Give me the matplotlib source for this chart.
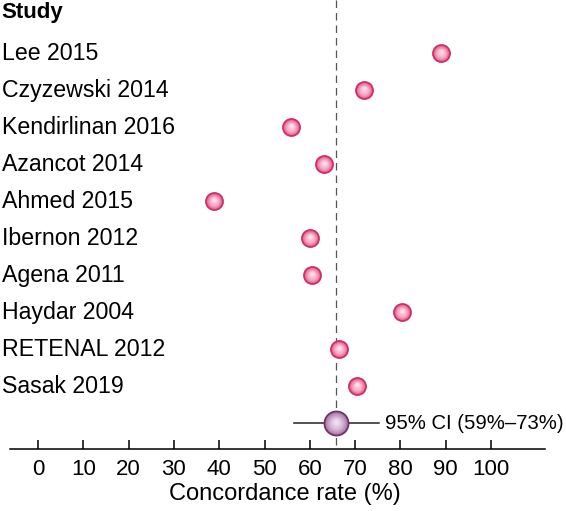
import matplotlib.pyplot as plt
import numpy as np
from matplotlib.colors import to_rgb

plt.rcParams['font.family'] = ['Liberation Sans', 'DejaVu Sans']

# データ
studies = ['Lee 2015', 'Czyzewski 2014', 'Kendirlinan 2016', 'Azancot 2014', 'Ahmed 2015',
           'Ibernon 2012', 'Agena 2011', 'Haydar 2004', 'RETENAL 2012', 'Sasak 2019']
rates = [89.0, 72.0, 55.9, 63.2, 38.8, 60.1, 60.5, 80.4, 66.5, 70.5]
pooled = 65.8
ci_low, ci_high = 56.5, 75.3
ci_text = '95% CI (59%\u201373%)'
xticks = [0, 10, 20, 30, 40, 50, 60, 70, 80, 90, 100]

fig = plt.figure(figsize=(5.66, 5.11), dpi=100)
ax = fig.add_axes([0, 0, 1, 1])
ax.set_xlim(-38 / 4.53, (566 - 38) / 4.53)
ax.set_ylim((511 - 53) / 37, -53 / 37)

rows = np.arange(len(studies))
pooled_row = len(studies)
axis_row = (449 - 53) / 37


def gradient_points(x, y, size, edge, base, light, z):
    # 擬似的なグラデーション
    ax.scatter(x, y, s=size, color=base, edgecolor=edge, linewidth=1.3, zorder=z)
    c0, c1 = np.array(to_rgb(base)), np.array(to_rgb(light))
    n = 8
    for i in range(1, n + 1):
        f = i / n
        col = c0 * (1 - f) + c1 * f
        ax.scatter(x, np.array(y) - 0.02 * f, s=size * (1 - f) ** 1.3 * 0.85 + 2,
                   color=col, linewidth=0, zorder=z + 0.01 * i)


# 点推定値の破線
ax.plot([pooled, pooled], [-53 / 37, axis_row], color='#555555', lw=0.9,
        dashes=(6, 4), zorder=1)

gradient_points(rates, rows, 150, '#cc2f66', '#ec6190', '#fde8f0', 3)

# 統合値
ax.plot([ci_low, ci_high], [pooled_row, pooled_row], color='#222222', lw=1.1, zorder=2)
gradient_points([pooled], [pooled_row], 300, '#6e3465', '#b07ab0', '#f3e8f2', 3)
ax.text(ci_high + 1.3, pooled_row, ci_text, fontsize=14.6, va='center', ha='left')

# ラベル
for r, name in zip(rows, studies):
    ax.text(-8.0, r, name, fontsize=16.7, va='center', ha='left')
ax.text(-8.0, (12 - 53) / 37, 'Study', fontsize=16, fontweight='bold', va='center', ha='left')

# x軸
for s in ['top', 'right', 'left']:
    ax.spines[s].set_visible(False)
ax.spines['bottom'].set_position(('data', axis_row))
ax.spines['bottom'].set_bounds(-6.2, 112)
ax.spines['bottom'].set_linewidth(1.1)
ax.set_yticks([])
ax.set_xticks(xticks)
ax.set_xticklabels([str(t) for t in xticks], fontsize=16)
ax.tick_params(axis='x', direction='in', length=6.5, width=1.1, pad=7)
ax.set_xlabel('Concordance rate (%)', fontsize=17)
ax.xaxis.set_label_coords(285 / 566, 1 - 494 / 511)
ax.xaxis.label.set_va('center')

fig.savefig('out.png', dpi=100)
